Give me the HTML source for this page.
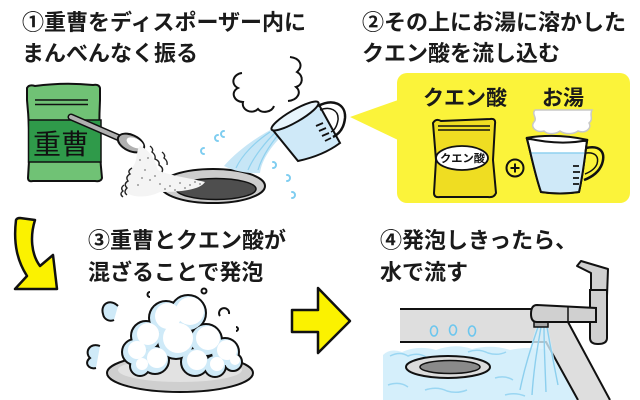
<!DOCTYPE html>
<html><head><meta charset="utf-8">
<style>
html,body{margin:0;padding:0;background:#fff;}
svg{display:block;}
.t{font-family:"Liberation Sans","Noto Sans CJK JP",sans-serif;font-weight:700;fill:#1a1a1a;}
</style></head>
<body>
<svg width="640" height="400" viewBox="0 0 640 400" xmlns="http://www.w3.org/2000/svg">
<rect width="640" height="400" fill="#fff"/>

<!-- ===== Step 1 text ===== -->
<text class="t" x="22" y="30" font-size="22">①重曹をディスポーザー内に</text>
<text class="t" x="22" y="61" font-size="22">まんべんなく振る</text>

<!-- green bag -->
<path d="M27,88 Q29,84 35,86 Q64,82 93,85 Q99,84 100,88 L100,100 Q98,140 102,178 Q101,182 95,181 L33,181 Q28,182 28,178 Q31,140 27,100 Z" fill="#70c275" stroke="#111" stroke-width="2"/>
<rect x="28.5" y="120" width="72.5" height="42" fill="#2f9a4a" stroke="#111" stroke-width="1.5"/>
<line x1="35" y1="100" x2="88" y2="100" stroke="#111" stroke-width="1.6"/>
<line x1="35" y1="104.5" x2="88" y2="104.5" stroke="#111" stroke-width="1.6"/>
<text x="33" y="154" font-size="28" font-family="'Noto Sans CJK JP',sans-serif" font-weight="400" fill="#111">重曹</text>

<!-- spoon -->
<line x1="71" y1="117" x2="124" y2="140" stroke="#111" stroke-width="7" stroke-linecap="round"/>
<line x1="71" y1="117" x2="124" y2="140" stroke="#b0b0b0" stroke-width="4" stroke-linecap="round"/>
<ellipse cx="131" cy="143" rx="14" ry="8" transform="rotate(25 131 143)" fill="#b0b0b0" stroke="#111" stroke-width="2"/>
<ellipse cx="135" cy="143" rx="9" ry="4.5" transform="rotate(25 135 143)" fill="#fff"/>

<!-- drain step1 -->
<ellipse cx="213" cy="186" rx="52" ry="17" fill="#cdcdcd" stroke="#111" stroke-width="2"/>
<ellipse cx="216" cy="189" rx="40" ry="10.5" fill="#4e4e4e" stroke="#111" stroke-width="1.5"/>

<!-- powder -->
<path d="M140,146 C150,150 155,160 158,170 C170,176 190,178 205,182 C200,190 180,192 160,192 C148,198 132,198 126,192 C122,182 128,172 134,165 C138,158 136,150 140,146 Z" fill="#f4f4f4"/>
<g fill="#9a9a9a">
<circle cx="160" cy="184" r="1"/><circle cx="170" cy="186" r="1"/><circle cx="180" cy="183" r="1"/><circle cx="190" cy="185" r="1"/><circle cx="165" cy="189" r="1"/><circle cx="175" cy="190" r="1"/><circle cx="185" cy="188" r="1"/><circle cx="195" cy="182" r="1"/><circle cx="150" cy="180" r="1"/><circle cx="145" cy="170" r="1"/><circle cx="140" cy="160" r="1"/><circle cx="148" cy="158" r="1"/><circle cx="138" cy="185" r="1"/><circle cx="155" cy="176" r="1"/><circle cx="200" cy="184" r="1"/><circle cx="142" cy="178" r="1"/>
</g>
<path d="M150,146 q4,3 2,6 q4,3 3,7 q5,2 4,6 q5,3 3,7" fill="none" stroke="#222" stroke-width="1.4"/>
<path d="M162,152 q4,3 2,6 q4,3 3,7" fill="none" stroke="#222" stroke-width="1.4"/>
<path d="M132,168 q-5,3 -2,6 q-5,3 -2,7 q-5,3 -1,7 q-4,4 0,7" fill="none" stroke="#222" stroke-width="1.4"/>
<path d="M124,185 q-4,3 -1,6 q-4,3 0,6" fill="none" stroke="#222" stroke-width="1.4"/>

<!-- steam step1 -->
<path d="M242,73 C233,74 230,84 238,88 C230,92 234,102 243,102 C241,110 252,115 258,109 C262,114 272,112 274,106" fill="none" stroke="#111" stroke-width="2"/>
<path d="M290,57 C300,58 304,66 297,72 C304,76 303,85 296,87 C302,92 298,100 288,101" fill="none" stroke="#111" stroke-width="2"/>

<!-- water stream -->
<path d="M276,127 C258,136 238,150 224,166 Q240,174 260,173 C262,158 274,140 302,118 Z" fill="#c7e6f6"/>
<path d="M270,132 C255,142 242,155 236,168 M278,130 C265,142 253,158 248,170 M285,127 C273,140 262,156 258,170" fill="none" stroke="#8fd1ef" stroke-width="1.2"/>

<!-- cup step1 -->
<path d="M272,129 C290,118 305,110 318,103 L340,143 C328,152 312,158 298,161 Z" fill="#cfe9f8" stroke="#111" stroke-width="2"/>
<ellipse cx="295" cy="116" rx="27" ry="6" transform="rotate(-30 295 116)" fill="#e8f5fc" stroke="#111" stroke-width="2"/>
<path d="M318,106 C333,98 346,104 345,118 C344,128 339,134 333,137" fill="none" stroke="#111" stroke-width="2.5"/>
<path d="M320,110 C330,106 339,110 338,120 C337,126 335,130 331,132" fill="none" stroke="#111" stroke-width="1.5"/>
<path d="M316,126 l7,-3 M319,131 l7,-3 M322,136 l7,-3 M325,141 l6,-3" stroke="#111" stroke-width="1.8"/>

<!-- droplets -->
<g fill="none" stroke="#7fcdf0" stroke-width="2" stroke-linecap="round">
<path d="M224,131 a3,3 0 1 0 0,6"/>
<path d="M204,148 a3,3 0 1 0 0,6"/>
<path d="M218,135 a3,3 0 1 0 0,6"/>
<path d="M273,162 a3,3 0 1 1 0,6"/>
<path d="M287,175 a3,3 0 1 1 0,6"/>
<path d="M292,192 a3,3 0 1 1 0,6"/>
</g>

<!-- ===== Step 2 ===== -->
<text class="t" x="362" y="30" font-size="22">②その上にお湯に溶かした</text>
<text class="t" x="362" y="61" font-size="22">クエン酸を流し込む</text>

<rect x="397" y="73" width="233" height="130" rx="10" fill="#fbf33a"/>
<polygon points="398,100 350,117 398,140" fill="#fbf33a"/>
<text class="t" x="423" y="105" font-size="21">クエン酸</text>
<text class="t" x="542" y="105" font-size="21">お湯</text>

<!-- citric bag -->
<path d="M433,123 Q436,118 441,121 L490,119 Q496,118 495,124 L493,160 L496,193 Q494,198 488,197 L440,197 Q434,198 434,193 L436,160 Z" fill="#efdd22" stroke="#111" stroke-width="2"/>
<line x1="438" y1="126" x2="490" y2="126" stroke="#111" stroke-width="1.4"/>
<line x1="438" y1="130" x2="490" y2="130" stroke="#111" stroke-width="1.4"/>
<ellipse cx="462" cy="158" rx="26" ry="12" fill="#fff" stroke="#111" stroke-width="1.8"/>
<text x="440" y="162" font-size="11" textLength="45" lengthAdjust="spacingAndGlyphs" font-family="'Noto Sans CJK JP',sans-serif" font-weight="700" fill="#111">クエン酸</text>

<!-- plus -->
<circle cx="515" cy="168" r="8.5" fill="#fbf33a" stroke="#111" stroke-width="2"/>
<path d="M510.5,168 h9 M515,163.5 v9" stroke="#111" stroke-width="2"/>

<!-- steam -->
<path d="M535,110 C531,114 538,118 534,122 C530,127 536,133 544,131 C548,135 556,134 560,131 C566,135 574,134 578,131 C586,134 592,128 589,123 C594,119 589,115 592,110 Z" fill="#fff" stroke="#c8c8c8" stroke-width="1.5"/>

<!-- cup step2 -->
<path d="M527,139 C530,150 535,175 541,192 Q560,195 579,192 C583,175 585,155 587,141 Z" fill="#fff" stroke="#111" stroke-width="2"/>
<path d="M531,153 L586,153 C585,165 582,180 579,192 Q560,195 541,192 C537,180 533,165 531,153 Z" fill="#cfe9f8"/>
<line x1="531" y1="153" x2="586" y2="153" stroke="#8fd1ef" stroke-width="1.5"/>
<path d="M527,139 C530,150 535,175 541,192 Q560,195 579,192 C583,175 585,155 587,141" fill="none" stroke="#111" stroke-width="2"/>
<path d="M526,138 Q556,133 588,140 Q560,146 526,138 Z" fill="#fff" stroke="#111" stroke-width="2"/>
<path d="M586,148 C600,145 606,152 602,164 C599,172 592,177 584,180" fill="none" stroke="#111" stroke-width="2.5"/>
<path d="M586,153 C596,152 599,157 597,164 C595,169 590,172 585,174" fill="none" stroke="#111" stroke-width="1.5"/>
<path d="M573,166 h6 M573,172 h7 M573,178 h6 M573,184 h6" stroke="#111" stroke-width="1.8"/>

<!-- ===== Step 3 ===== -->
<path d="M16,220 Q17,218 20,218 L35,220 C30,236 31,254 40,266 L53,255 L57,289 L15,289 L27,276 C18,262 13,245 16,220 Z" fill="#fbf200" stroke="#111" stroke-width="2.5" stroke-linejoin="round"/>

<text class="t" x="88" y="248" font-size="22">③重曹とクエン酸が</text>
<text class="t" x="88" y="280" font-size="22">混ざることで発泡</text>

<!-- dish -->
<ellipse cx="180" cy="373" rx="73" ry="19" fill="#cfcfcf" stroke="#111" stroke-width="2"/>
<ellipse cx="180" cy="370" rx="62" ry="12" fill="#e2e2e2"/>

<!-- bubbles -->
<g stroke="#111" stroke-width="4" fill="#111">
<circle cx="166" cy="318" r="16"/><circle cx="188" cy="313" r="17"/><circle cx="146" cy="336" r="14"/><circle cx="135" cy="352" r="12"/><circle cx="206" cy="340" r="15"/><circle cx="225" cy="352" r="13"/><circle cx="176" cy="340" r="18"/><circle cx="155" cy="360" r="13"/><circle cx="195" cy="362" r="13"/><circle cx="215" cy="366" r="10"/><circle cx="233" cy="362" r="8"/><circle cx="140" cy="366" r="9"/>
</g>
<g fill="#cfeaf8">
<circle cx="166" cy="318" r="16"/><circle cx="188" cy="313" r="17"/><circle cx="146" cy="336" r="14"/><circle cx="135" cy="352" r="12"/><circle cx="206" cy="340" r="15"/><circle cx="225" cy="352" r="13"/><circle cx="176" cy="340" r="18"/><circle cx="155" cy="360" r="13"/><circle cx="195" cy="362" r="13"/><circle cx="215" cy="366" r="10"/><circle cx="233" cy="362" r="8"/><circle cx="140" cy="366" r="9"/>
</g>
<g fill="#fff">
<circle cx="168" cy="316" r="13"/><circle cx="190" cy="311" r="14"/><circle cx="148" cy="334" r="11"/><circle cx="137" cy="350" r="9"/><circle cx="208" cy="338" r="12"/><circle cx="227" cy="350" r="10"/><circle cx="178" cy="338" r="15"/><circle cx="157" cy="358" r="10"/><circle cx="197" cy="360" r="10"/><circle cx="217" cy="364" r="7"/><circle cx="235" cy="360" r="5"/><circle cx="142" cy="364" r="6"/>
</g>
<!-- small puffs -->
<path d="M100,346 C90,342 84,352 90,358 C84,362 88,370 96,368" fill="#cfeaf8" stroke="#111" stroke-width="2"/>
<path d="M118,306 C110,298 100,304 103,314 C104,320 110,322 114,320" fill="#cfeaf8" stroke="#111" stroke-width="2"/>
<g fill="none" stroke="#111" stroke-width="2">
<path d="M150,292 a2.5,2.5 0 1 0 0,5"/>
<circle cx="204" cy="291" r="2.5"/>
<path d="M220,316 a5,5 0 1 1 9,-2"/>
<path d="M236,327 a2,2 0 1 1 0,4"/>
</g>

<!-- right arrow -->
<polygon points="292,310 318,310 318,288 350,321 318,353 318,332 292,332" fill="#fbf200" stroke="#111" stroke-width="2.5" stroke-linejoin="round"/>

<!-- ===== Step 4 ===== -->
<text class="t" x="380" y="248" font-size="22">④発泡しきったら、</text>
<text class="t" x="380" y="280" font-size="22">水で流す</text>

<!-- water -->
<path d="M383,400 L383,355 Q390,348 402,352 Q418,345 436,350 Q455,343 472,349 Q492,344 510,350 Q528,346 548,350 L580,400 Z" fill="#d5effb"/>
<g fill="none" stroke="#9ad6f2" stroke-width="1.5">
<path d="M390,356 q10,-5 18,0 q10,-4 18,1"/>
<path d="M468,352 q10,-4 20,1 q10,3 18,-1"/>
<path d="M388,385 q12,-4 20,2"/>
<path d="M425,390 q12,-4 22,1 q10,3 20,-1"/>
<path d="M495,378 q10,-3 18,2"/>
<path d="M505,395 q10,-3 20,1"/>
</g>

<!-- walls -->
<path d="M400,309 L545,309 L568,322 L610,400 L578,400 L546,342 L400,342 Z" fill="#dedede"/>
<path d="M400,309 L540,309" stroke="#111" stroke-width="2"/>
<path d="M400,342 L546,342 L578,400" fill="none" stroke="#111" stroke-width="2"/>
<path d="M568,322 L610,400" stroke="#111" stroke-width="2"/>
<g fill="none" stroke="#6cc6ee" stroke-width="1.6">
<ellipse cx="434" cy="331" rx="3.5" ry="5"/>
<ellipse cx="453" cy="330" rx="3.5" ry="5"/>
<ellipse cx="472" cy="331" rx="3.5" ry="5"/>
</g>

<!-- drain step4 -->
<ellipse cx="448" cy="367" rx="42" ry="11" fill="#dcdcdc" stroke="#111" stroke-width="2"/>
<ellipse cx="450" cy="367" rx="30" ry="6.5" fill="#8a8a8a" stroke="#111" stroke-width="1.5"/>

<!-- water stream from faucet -->
<path d="M536,327 L548,327 L560,388 L518,392 Z" fill="#d5effb" opacity="0.8"/>
<g fill="none" stroke="#8ccfee" stroke-width="1.4">
<path d="M538,327 C532,345 525,365 520,390"/>
<path d="M541,327 C538,345 534,365 532,395"/>
<path d="M544,327 C544,345 545,365 546,392"/>
<path d="M547,327 C550,345 554,365 558,385"/>
</g>

<!-- faucet -->
<path d="M577,266 L581,261 L608,269 L607,296 L591,296 L591,273 Z" fill="#d0d0d0" stroke="#111" stroke-width="2" stroke-linejoin="round"/>
<path d="M590,290 L607,290 L607,338 Q607,344 598,344 Q590,344 590,338 Z" fill="#d0d0d0" stroke="#111" stroke-width="2"/>
<rect x="534" y="320" width="14" height="7" fill="#a8a8a8" stroke="#111" stroke-width="1.5"/>
<path d="M537,305 L596,308 L596,322 L537,322 Q531,322 531,314 Q531,305 537,305 Z" fill="#d0d0d0" stroke="#111" stroke-width="2"/>
<line x1="568" y1="306" x2="568" y2="322" stroke="#111" stroke-width="1.5"/>
</svg>
</body></html>
